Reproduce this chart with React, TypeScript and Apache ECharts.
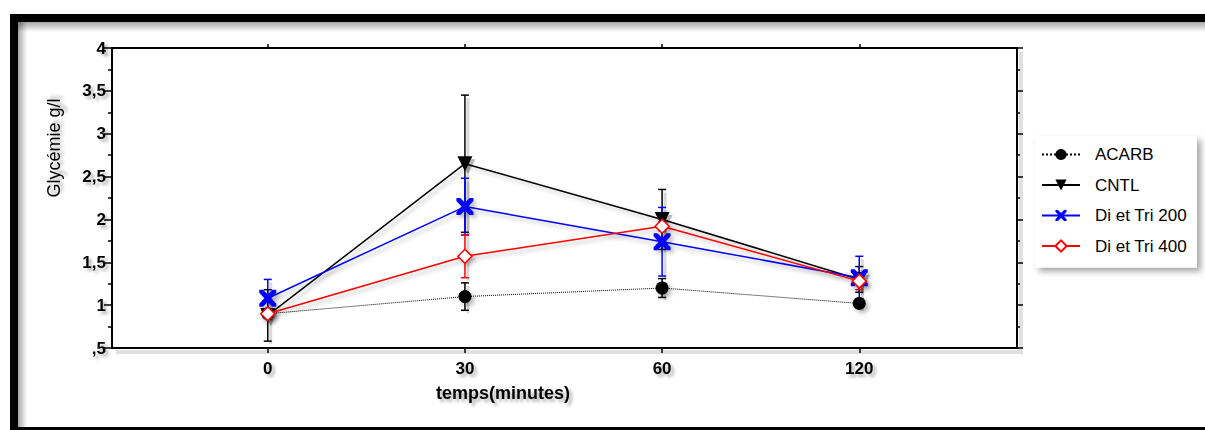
import React, { useEffect, useRef } from "react";
import * as echarts from "echarts";

const timeLabels = ["0", "30", "60", "120"];
const seriesNames = ["ACARB", "CNTL", "Di et Tri 200", "Di et Tri 400"];
const yTickLabels = [",5", "1", "1,5", "2", "2,5", "3", "3,5", "4"];

const acarb = [0.9, 1.1, 1.2, 1.02];
const acarbErr = [0.04, 0.16, 0.11, 0.05];
const cntl = [0.88, 2.65, 2.0, 1.3];
const cntlErr = [0.3, 0.8, 0.35, 0.15];
const diet200 = [1.08, 2.15, 1.74, 1.32];
const diet200Err = [0.22, 0.33, 0.4, 0.25];
const diet400 = [0.9, 1.57, 1.92, 1.28];
const diet400Err = [0.04, 0.25, 0.05, 0.1];

const FONT = "'Liberation Sans', Arial, sans-serif";
const X_SYMBOL =
  "path://M0,0 L4.5,0 L10,5.5 L15.5,0 L20,0 L20,3.5 L14,10 L20,16.5 L20,20 L15.5,20 L10,14.5 L4.5,20 L0,20 L0,16.5 L6,10 L0,3.5 Z";

const shadow = {
  shadowColor: "rgba(0,0,0,0.28)",
  shadowBlur: 4,
  shadowOffsetX: 3,
  shadowOffsetY: 3,
};
const textShadow = {
  textShadowColor: "rgba(0,0,0,0.3)",
  textShadowBlur: 3,
  textShadowOffsetX: 3,
  textShadowOffsetY: 3,
};

function errSeries(means: number[], errs: number[], color: string, z: number) {
  return {
    type: "custom",
    silent: true,
    z,
    data: means.map((m, i) => [i, m - errs[i], m + errs[i]]),
    encode: { x: 0, y: [1, 2] },
    renderItem: (_params: any, api: any) => {
      const lo = api.coord([api.value(0), api.value(1)]);
      const hi = api.coord([api.value(0), api.value(2)]);
      const w = 4;
      const style = { stroke: color, lineWidth: 1.5 };
      const sh = { stroke: "rgba(0,0,0,0.15)", lineWidth: 3 };
      return {
        type: "group",
        children: [
          { type: "line", shape: { x1: lo[0] + 3, y1: lo[1] + 3, x2: hi[0] + 3, y2: hi[1] + 3 }, style: sh },
          { type: "line", shape: { x1: lo[0], y1: lo[1], x2: hi[0], y2: hi[1] }, style },
          { type: "line", shape: { x1: lo[0] - w, y1: lo[1], x2: lo[0] + w, y2: lo[1] }, style },
          { type: "line", shape: { x1: hi[0] - w, y1: hi[1], x2: hi[0] + w, y2: hi[1] }, style },
        ],
      };
    },
  };
}

function pts(vals: number[]) {
  return vals.map((v, i) => [i, v]);
}

export default function App() {
  const ref = useRef<HTMLDivElement>(null);
  useEffect(() => {
    const chart = echarts.init(ref.current!, null, { renderer: "svg" });
    const tickIdx = timeLabels.map((_, i) => i);
    const axisLineStyle = { color: "#000", width: 2 };
    const G = { left: 112, right: 188, top: 48, bottom: 82 };
    const W = 1205;
    const H = 430;
    const shadowLine = { stroke: "rgba(0,0,0,0.12)", lineWidth: 4 };
    const option: any = {
      animation: false,
      backgroundColor: "#fff",
      textStyle: { fontFamily: FONT },
      grid: G,
      xAxis: [
        {
          type: "value",
          position: "bottom",
          min: -0.79,
          max: 3.8,
          axisLine: { show: true, onZero: false, lineStyle: axisLineStyle },
          axisTick: { show: true, length: 5, customValues: tickIdx, lineStyle: { color: "#000", width: 1.5 } },
          axisLabel: {
            customValues: tickIdx,
            formatter: (v: number) => timeLabels[Math.round(v)] ?? "",
            color: "#000",
            fontWeight: "bold",
            fontSize: 17,
            fontFamily: FONT,
            margin: 12,
            ...textShadow,
          },
          splitLine: { show: false },
        },
        {
          type: "value",
          position: "top",
          min: -0.79,
          max: 3.8,
          axisLine: { show: true, onZero: false, lineStyle: axisLineStyle },
          axisTick: { show: true, length: 4, customValues: tickIdx, lineStyle: { color: "#000", width: 1.5 } },
          axisLabel: { show: false },
          splitLine: { show: false },
        },
      ],
      yAxis: [
        {
          type: "value",
          position: "left",
          min: 0.5,
          max: 4,
          interval: 0.5,
          axisLine: { show: true, onZero: false, lineStyle: axisLineStyle },
          axisTick: { show: true, length: 8, lineStyle: { color: "#000", width: 1.5 } },
          minorTick: { show: true, splitNumber: 2, length: 4, lineStyle: { color: "#000", width: 1.5 } },
          axisLabel: {
            formatter: (v: number) => yTickLabels[Math.round((v - 0.5) / 0.5)] ?? "",
            color: "#000",
            fontWeight: "bold",
            fontSize: 17,
            fontFamily: FONT,
            margin: 6,
            ...textShadow,
          },
          splitLine: { show: false },
        },
        {
          type: "value",
          position: "right",
          min: 0.5,
          max: 4,
          interval: 0.5,
          axisLine: { show: true, onZero: false, lineStyle: axisLineStyle },
          axisTick: { show: true, length: 6, lineStyle: { color: "#000", width: 1.5 } },
          minorTick: { show: true, splitNumber: 2, length: 3, lineStyle: { color: "#000", width: 1.5 } },
          axisLabel: { show: false },
          splitLine: { show: false },
        },
      ],
      legend: {
        left: 1035,
        top: 136,
        orient: "vertical",
        data: seriesNames,
        itemWidth: 38,
        itemHeight: 14,
        itemGap: 13.5,
        padding: [10, 10, 13, 6],
        backgroundColor: "#fff",
        shadowColor: "rgba(0,0,0,0.35)",
        shadowBlur: 6,
        shadowOffsetX: 4,
        shadowOffsetY: 4,
        textStyle: {
          fontSize: 17,
          lineHeight: 17,
          fontFamily: FONT,
          color: "#000",
          padding: [0, 0, 0, 10],
        },
      },
      series: [
        errSeries(acarb, acarbErr, "#000", 2),
        errSeries(cntl, cntlErr, "#000", 2),
        errSeries(diet200, diet200Err, "#0000ff", 2),
        errSeries(diet400, diet400Err, "#ff0000", 2),
        {
          type: "line",
          name: seriesNames[0],
          z: 3,
          data: pts(acarb),
          symbol: "circle",
          symbolSize: 13,
          itemStyle: { color: "#000", ...shadow },
          lineStyle: { color: "#000", width: 1, type: "dotted" },
        },
        {
          type: "line",
          name: seriesNames[1],
          z: 4,
          data: pts(cntl),
          symbol: "triangle",
          symbolRotate: 180,
          symbolSize: 15,
          itemStyle: { color: "#000", ...shadow },
          lineStyle: { color: "#000", width: 1.5, ...shadow },
        },
        {
          type: "line",
          name: seriesNames[2],
          z: 5,
          data: pts(diet200),
          symbol: X_SYMBOL,
          symbolSize: 17,
          itemStyle: { color: "#0000ff", ...shadow },
          lineStyle: { color: "#0000ff", width: 1.5, ...shadow },
        },
        {
          type: "line",
          name: seriesNames[3],
          z: 6,
          data: pts(diet400),
          symbol: "diamond",
          symbolSize: 14,
          itemStyle: { color: "#fff", borderColor: "#ff0000", borderWidth: 1.5, ...shadow },
          lineStyle: { color: "#ff0000", width: 1.5, ...shadow },
        },
      ],
      graphic: [
        {
          type: "rect",
          z: 0,
          shape: { x: 18, y: 22, width: W - 18, height: 10 },
          style: {
            fill: new echarts.graphic.LinearGradient(0, 0, 0, 1, [
              { offset: 0, color: "rgba(0,0,0,0.35)" },
              { offset: 1, color: "rgba(0,0,0,0)" },
            ]),
          },
        },
        {
          type: "rect",
          z: 0,
          shape: { x: 18, y: 22, width: 9, height: 406 },
          style: {
            fill: new echarts.graphic.LinearGradient(0, 0, 1, 0, [
              { offset: 0, color: "rgba(0,0,0,0.35)" },
              { offset: 1, color: "rgba(0,0,0,0)" },
            ]),
          },
        },
        {
          type: "polyline",
          z: 0,
          shape: {
            points: [
              [W - G.right + 4, G.top + 4],
              [W - G.right + 4, H - G.bottom + 4],
              [G.left + 4, H - G.bottom + 4],
            ],
          },
          style: shadowLine,
        },
        { type: "rect", z: 1, shape: { x: 10, y: 14, width: W - 10, height: 8 }, style: { fill: "#000" } },
        { type: "rect", z: 1, shape: { x: 10, y: 14, width: 8, height: 416 }, style: { fill: "#000" } },
        { type: "rect", z: 1, shape: { x: 10, y: 427, width: W - 10, height: 3 }, style: { fill: "#000" } },
        {
          type: "text",
          z: 10,
          x: 54,
          y: 148,
          rotation: Math.PI / 2,
          style: {
            text: "Glycémie g/l",
            font: `18px ${FONT}`,
            fill: "#000",
            align: "center",
            verticalAlign: "middle",
            ...textShadow,
          },
        },
        {
          type: "text",
          z: 10,
          x: 503,
          y: 393,
          style: {
            text: "temps(minutes)",
            font: `bold 18px ${FONT}`,
            fill: "#000",
            align: "center",
            verticalAlign: "middle",
            ...textShadow,
          },
        },
      ],
    };
    chart.setOption(option);
    return () => chart.dispose();
  }, []);
  return (
    <div
      ref={ref}
      style={{ position: "fixed", left: 0, top: 0, width: 1205, height: 430, background: "#fff" }}
    />
  );
}
